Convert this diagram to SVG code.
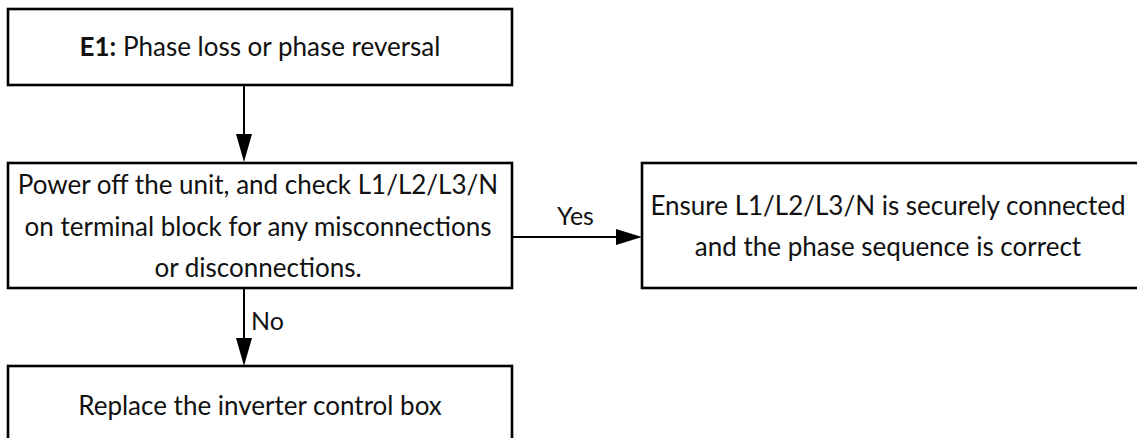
<svg xmlns="http://www.w3.org/2000/svg" width="1137" height="438" viewBox="0 0 1137 438">
<style>
.box{fill:#fff;stroke:#000;stroke-width:2.6}
.t{font-family:Lato,"Liberation Sans",sans-serif;font-size:26px;fill:#111;text-anchor:middle}
.lbl{font-family:Lato,"Liberation Sans",sans-serif;font-size:25px;fill:#111}
.ln{stroke:#000;stroke-width:2;fill:none}
.ah{fill:#000}
</style>
<rect width="1137" height="438" fill="#fff"/>
<g id="n1">
<rect class="box" x="8" y="9" width="504" height="76"/>
<text class="t" x="260" y="56"><tspan font-weight="bold">E1:</tspan> Phase loss or phase reversal</text>
</g>
<g id="n2">
<rect class="box" x="8" y="163" width="504" height="125"/>
<text class="t" x="258" y="194">Power off the unit, and check L1/L2/L3/N</text>
<text class="t" x="258" y="235.5">on terminal block for any misconnections</text>
<text class="t" x="258" y="277">or disconnections.</text>
</g>
<g id="n3">
<rect class="box" x="642" y="163" width="510" height="125"/>
<text class="t" x="888" y="215">Ensure L1/L2/L3/N is securely connected</text>
<text class="t" x="888" y="256">and the phase sequence is correct</text>
</g>
<g id="n4">
<rect class="box" x="8" y="366" width="504" height="100"/>
<text class="t" x="260" y="415">Replace the inverter control box</text>
</g>
<g id="connectors">
<line class="ln" x1="244" y1="86" x2="244" y2="136"/>
<polygon class="ah" points="236,134 252,134 244,162"/>
<line class="ln" x1="512" y1="237" x2="618" y2="237"/>
<polygon class="ah" points="616,229 616,245 642,237"/>
<text class="lbl" x="575.5" y="225" text-anchor="middle">Yes</text>
<line class="ln" x1="244" y1="289" x2="244" y2="340"/>
<polygon class="ah" points="236,338 252,338 244,366"/>
<text class="lbl" x="251" y="330">No</text>
</g>
</svg>
